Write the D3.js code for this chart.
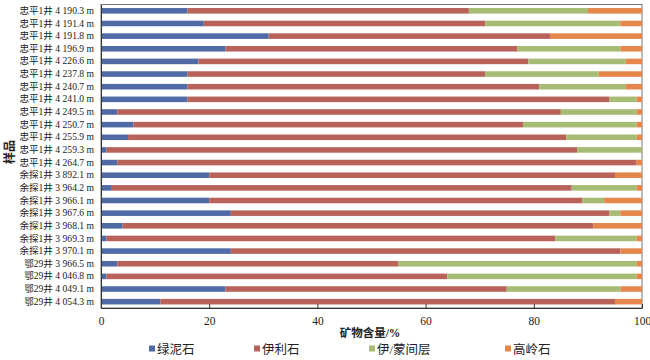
<!DOCTYPE html>
<html><head><meta charset="utf-8">
<script src="https://cdn.jsdelivr.net/npm/d3@7/dist/d3.min.js"></script>
<style>body{margin:0;background:#fff;} svg{display:block;}</style>
</head><body>
<svg id="c" width="650" height="360"></svg>
<script>
const samples = ["忠平1井 4 190.3 m","忠平1井 4 191.4 m","忠平1井 4 191.8 m","忠平1井 4 196.9 m","忠平1井 4 226.6 m","忠平1井 4 237.8 m","忠平1井 4 240.7 m","忠平1井 4 241.0 m","忠平1井 4 249.5 m","忠平1井 4 250.7 m","忠平1井 4 255.9 m","忠平1井 4 259.3 m","忠平1井 4 264.7 m","余探1井 3 892.1 m","余探1井 3 964.2 m","余探1井 3 966.1 m","余探1井 3 967.6 m","余探1井 3 968.1 m","余探1井 3 969.3 m","余探1井 3 970.1 m","鄂29井 3 966.5 m","鄂29井 4 046.8 m","鄂29井 4 049.1 m","鄂29井 4 054.3 m"];
const chlorite   = [16,19,31,23,18,16,16,16, 3, 6, 5, 1, 3,20, 2,20,24, 4, 1,24, 3, 1,23,11];
const illite     = [52,52,52,54,61,55,65,78,82,72,81,87,96,75,85,69,70,87,83,72,52,63,52,84];
const illSmect   = [22,25, 0,19,18,21,16, 5,14,21,13,12, 0, 0,12, 4, 2, 0,15, 0,44,35,21, 0];
const kaolinite  = [10, 4,17, 4, 3, 8, 3, 1, 1, 1, 1, 0, 1, 5, 1, 7, 4, 9, 1, 4, 1, 1, 4, 5];
const seriesNames = ["绿泥石","伊利石","伊/蒙间层","高岭石"];
const xTicks = [0,20,40,60,80,100];

const colors = ["#4f6aa4","#b9625a","#a6bb73","#e5874c"];
const serif = "'Liberation Serif','Times New Roman','Noto Sans CJK SC',serif";

const svg = d3.select("#c");
const L = 101, R = 642, T = 4.5, B = 308;
const x = d3.scaleLinear().domain([0,100]).range([L,R]);
const y = d3.scaleBand().domain(samples).range([T,B]).paddingInner(0.56).paddingOuter(0.28);

const rows = samples.map((s,i)=>({sample:s, "绿泥石":chlorite[i], "伊利石":illite[i], "伊/蒙间层":illSmect[i], "高岭石":kaolinite[i]}));
const stacked = d3.stack().keys(seriesNames)(rows);

// frame
svg.append("rect").attr("x",L).attr("y",T).attr("width",R-L).attr("height",B-T)
  .attr("fill","none").attr("stroke","#777").attr("stroke-width",1);

svg.append("g").selectAll("g").data(stacked).join("g")
  .attr("fill",(d,i)=>colors[i])
  .selectAll("rect").data(d=>d).join("rect")
  .attr("x",d=>x(d[0])).attr("width",d=>Math.max(0,x(d[1])-x(d[0])))
  .attr("y",d=>y(d.data.sample)).attr("height",y.bandwidth());

// x axis
const xa = svg.append("g").attr("transform",`translate(0,${B})`)
  .call(d3.axisBottom(x).tickValues(xTicks).tickSizeInner(-4).tickSizeOuter(0).tickPadding(9));
xa.select(".domain").attr("stroke","#333");
xa.selectAll(".tick line").attr("stroke","#333");
xa.selectAll("text").attr("font-family",serif).attr("font-size",11.5).attr("fill","#222");

// y axis
const ya = svg.append("g").attr("transform",`translate(${L},0)`)
  .call(d3.axisLeft(y).tickSize(0).tickPadding(7));
ya.select(".domain").attr("stroke","#333");
ya.selectAll("text").attr("font-family",serif).attr("font-size",9.6).attr("fill","#222");

// axis titles
svg.append("text").attr("x",370).attr("y",337).attr("text-anchor","middle")
  .attr("font-family",serif).attr("font-size",11.5).attr("font-weight","bold").attr("fill","#222")
  .text("矿物含量/%");
svg.append("text").attr("transform","translate(14,152) rotate(-90)").attr("text-anchor","middle")
  .attr("font-family",serif).attr("font-size",12).attr("font-weight","bold").attr("fill","#222")
  .text("样品");

// legend
const legX = [149,254,369,505];
const lg = svg.append("g").selectAll("g").data(seriesNames).join("g")
  .attr("transform",(d,i)=>`translate(${legX[i]},349)`);
lg.append("rect").attr("x",0).attr("y",-3.5).attr("width",6).attr("height",6).attr("fill",(d,i)=>colors[i]);
lg.append("text").attr("x",8).attr("y",0).attr("dy","0.36em")
  .attr("font-family",serif).attr("font-size",12.5).attr("fill","#222").text(d=>d);
</script>
</body></html>
